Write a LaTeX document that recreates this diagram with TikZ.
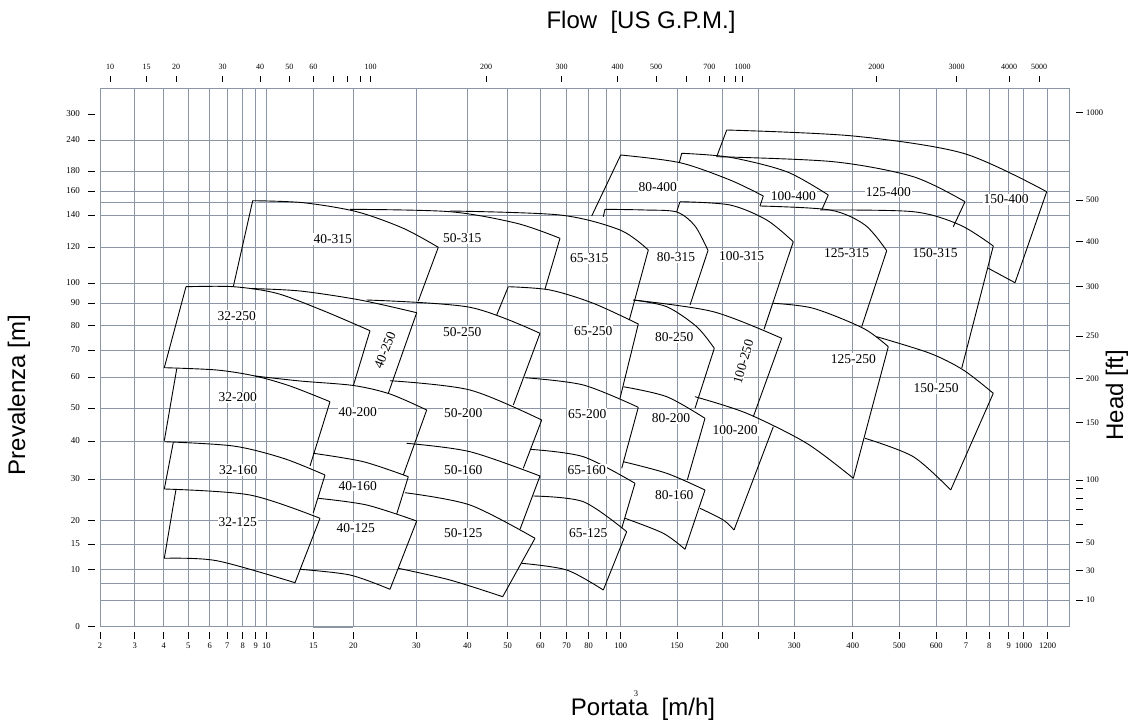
\documentclass[tikz,border=0pt]{standalone}
\usepackage{fontspec}
\setmainfont{Liberation Serif}
\newfontfamily\arialf{Liberation Sans}
\definecolor{gridc}{RGB}{138,150,164}
\begin{document}
\begin{tikzpicture}[x=1pt,y=-1pt,
  gridl/.style={draw=gridc, line width=0.85pt},
  crv/.style={line width=0.9pt, line join=round},
  tickm/.style={line width=0.8pt},
  lbl/.style={fill=white, inner sep=1pt, font=\fontsize{13.5}{14}\selectfont},
  tlbl/.style={inner sep=0pt, font=\fontsize{8.5}{9}\selectfont},
  title/.style={inner sep=0pt, font=\arialf\fontsize{24}{24}\selectfont}]
\useasboundingbox (0,0) rectangle (1133,722);
% grid
\foreach \x in {134.7,163.7,188.3,209.7,227.3,242.7,255.7,266.3,313.3,353.3,416.3,467.3,507.7,540.3,566.7,588.7,606.3,620.7,677,722.3,758.3,794.3,852.7,899.3,936.3,966,989.3,1008.7,1023.7,1047.7}
  \draw[gridl] (\x,88) -- (\x,626.7);
\foreach \y in {140,171,191,202,215,247,283,303,325.3,350,377,408,441,479,520.7,544,569.3,583.3,600}
  \draw[gridl] (100,\y) -- (1069,\y);
\draw[gridl] (100,88) rectangle (1069,626.7);
\draw[gridl, line width=1.6pt] (313.3,626.7) -- (353.3,626.7);
% left axis
\foreach \y/\t in {114/300,140/240,171/180,191/160,215/140,247/120,283/100,303/90,325.3/80,350/70,377/60,408/50,441/40,479/30,520.7/20,544/15,569.3/10,626.7/0}{
  \draw[tickm] (88,\y) -- (95,\y);
  \node[tlbl, anchor=east, font=\fontsize{9}{9}\selectfont] (l\t) at (80,\y) {\t};
}
% right axis
\foreach \y/\t in {112.7/1000,200/500,241.7/400,286.7/300,336/250,378.5/200,422.3/150,480/100,542.3/50,570.7/30,600/10}{
  \draw[tickm] (1076,\y) -- (1083,\y);
  \node[tlbl, anchor=west, font=\fontsize{8.5}{9}\selectfont] (r\t) at (1086,\y) {\t};
}
\foreach \y in {488.7,498,509.3,524} \draw[tickm] (1076,\y) -- (1083,\y);
% bottom axis
\foreach \x/\t in {100/2,134.7/3,163.7/4,188.3/5,209.7/6,227.3/7,242.7/8,255.7/9,266.3/10,313.3/15,353.3/20,416.3/30,467.3/40,507.7/50,540.3/60,566.7/70,588.7/80,620.7/100,677/150,722.3/200,794.3/300,852.7/400,899.3/500,936.3/600,966/7,989.3/8,1008.7/9,1023.7/1000,1047.7/1200}{
  \draw[tickm] (\x,632) -- (\x,639);
  \node[tlbl] (b\x) at (\x,646) {\t};
}
\foreach \x in {606.3,758.3} \draw[tickm] (\x,632) -- (\x,639);
% top axis
\foreach \x/\t in {110/10,146.7/15,176/20,222.7/30,260/40,289.3/50,313.3/60,370.7/100,486/200,561.7/300,617.7/400,656/500,709.3/700,742.7/1000,876.3/2000,956.7/3000,1009/4000,1039/5000}{
  \draw[tickm] (\x,76) -- (\x,82);
  \node[tlbl, font=\fontsize{8}{8}\selectfont] (t\x) at (\x,67) {\t};
}
\foreach \x in {333.3,347.7,360.7,686,724,735} \draw[tickm] (\x,76) -- (\x,82);
% titles
\node[title] (ttop) at (641,22) {Flow\ \ [US G.P.M.]};
\node[title] (tbot) at (643,709) {Portata\ \ [m/h]};
\node[inner sep=0pt, font=\fontsize{8.5}{9}\selectfont] (tsup) at (636,694) {3};
\node[title, rotate=90] (tleft) at (19,395) {Prevalenza [m]};
\node[title, rotate=90] (tright) at (1117,395) {Head [ft]};
% ---------- curves ----------
\begin{scope}[crv]
% 32 family
\draw plot[smooth] coordinates {(186,286.7) (233.3,286.7) (276.7,293.3) (323.3,310.7) (370,330.7)};
\draw (186,286.7) -- (164.3,367.7);
\draw (370,330.7) -- (353.3,385.7);
\draw plot[smooth] coordinates {(164.3,367.7) (216.7,370) (255,376) (290,386) (330,401.7)};
\draw (176.7,369) -- (164.3,440.7);
\draw (330,401.7) -- (310,466);
\draw plot[smooth] coordinates {(255,376) (300,381) (353.3,385.5) (390,394) (426.7,410)};
\draw (426.7,410) -- (403.3,475);
\draw plot[smooth] coordinates {(164.3,441.7) (233.3,446) (283.3,458.3) (325,475)};
\draw (173.3,442.3) -- (164.3,489);
\draw (325,475) -- (313.3,512.7);
\draw plot[smooth] coordinates {(313.3,453.3) (363.3,461.7) (408.3,476.7)};
\draw (408.3,476.7) -- (396.7,514);
\draw plot[smooth] coordinates {(164.3,489) (250,495) (320,518.3)};
\draw plot[smooth] coordinates {(318.3,498.3) (366.7,505) (416.7,521)};
\draw (176,489.3) -- (164.3,558.3);
\draw (320,518.3) -- (295,582.7);
\draw plot[smooth] coordinates {(164.3,558.3) (216.7,560.7) (295,582.7)};
\draw (416.7,521) -- (390,589.3);
\draw plot[smooth] coordinates {(300,569.3) (350,575) (390,589.3)};
% 40-315, 40-250
\draw (233.3,286.7) -- (252.7,200.7);
\draw plot[smooth] coordinates {(252.7,200.7) (303.3,202.7) (356.7,211.7) (403.3,228.3) (438.3,247.3)};
\draw (438.3,247.3) -- (418.3,301);
\draw plot[smooth] coordinates {(250,288.5) (300,291) (360,300) (416.7,312.7)};
\draw (416.7,312.7) -- (388.3,393.3);
% 50 family
\draw plot[smooth] coordinates {(350,209.3) (450,211.7) (516.7,223.3) (560,238.3)};
\draw (560,238.3) -- (545,289);
\draw plot[smooth] coordinates {(450,211) (560,215) (620,230) (648.3,250)};
\draw (648.3,250) -- (629.3,320);
\draw plot[smooth] coordinates {(366.7,300) (470,307.3) (540,333.3)};
\draw (540,333.3) -- (513.3,405);
\draw plot[smooth] coordinates {(390,380.7) (470,390) (541.7,420)};
\draw (541.7,420) -- (523.3,468.3);
\draw plot[smooth] coordinates {(406.7,443.3) (470,451.7) (540,476)};
\draw (540,476) -- (520,529.3);
\draw plot[smooth] coordinates {(405,492.7) (470,505) (535,538.3)};
\draw (535,538.3) -- (502.7,596.7);
\draw plot[smooth] coordinates {(398.3,568.3) (450,580) (502.7,596.7)};
% 65 family
\draw (508.3,286.7) -- (496.7,315);
\draw plot[smooth] coordinates {(508.3,286.7) (550,290) (593.3,303.3) (638.3,324)};
\draw (638.3,324) -- (620,398.3);
\draw plot[smooth] coordinates {(525,377.7) (583.3,385) (638.3,407.3)};
\draw (638.3,407.3) -- (621.7,468.3);
\draw plot[smooth] coordinates {(530,449.3) (583.3,456.7) (635,483.3)};
\draw (635,483.3) -- (621.7,528.3);
\draw plot[smooth] coordinates {(533.3,496) (583.3,501.7) (626.7,531.7)};
\draw (626.7,531.7) -- (603.3,590);
\draw plot[smooth] coordinates {(521.7,563.3) (566.7,570) (603.3,590)};
% 400 family
\draw (620.7,155) -- (591.7,216);
\draw plot[smooth] coordinates {(620.7,155) (680,162.7) (730,180) (763.3,196)};
\draw (763.3,196) -- (760,206);
\draw (681.7,153.3) -- (679.3,162.7);
\draw plot[smooth] coordinates {(681.7,153.3) (730,157.3) (786.7,171.7) (828.3,195)};
\draw (828.3,195) -- (821.7,210);
\draw plot[smooth] coordinates {(726.7,130) (853.3,136) (963.3,153.3) (1046.7,191.7)};
\draw (726.7,130) -- (716.7,156.7);
\draw plot[smooth] coordinates {(716.7,156.7) (833.3,161.7) (913.3,176.7) (965,201.7)};
\draw (965,201.7) -- (953.3,226.7);
\draw (1046.7,191.7) -- (1015,282.7);
\draw (988.3,268.3) -- (1015,282.7);
% 315 family
\draw plot[smooth] coordinates {(605,209.3) (645,210) (676.7,212) (695,226) (708,250.5)};
\draw (605,209.3) -- (603.3,216.7);
\draw (708,250.5) -- (690,305);
\draw (680,201.7) -- (676.7,211.7);
\draw plot[smooth] coordinates {(680,201.7) (730,205) (766.7,220) (793.3,241.7)};
\draw (793.3,241.7) -- (764,329.3);
\draw plot[smooth] coordinates {(760,206) (830,210) (865,225) (886.7,250.7)};
\draw (886.7,250.7) -- (861.7,326.7);
\draw plot[smooth] coordinates {(820,210) (913.3,211.7) (960,225) (993.3,246)};
\draw (993.3,246) -- (961.7,368.3);
% 250 family
\draw plot[smooth] coordinates {(633.3,300) (666.7,306.7) (696.7,326.7) (714.3,348.3)};
\draw plot[smooth] coordinates {(633.3,300) (713.3,311.7) (781.7,338.3)};
\draw (714.3,348.3) -- (695,408.3);
\draw (781.7,338.3) -- (753.3,416.7);
\draw plot[smooth] coordinates {(773.3,303.3) (813.3,308.3) (863.3,328.3) (888.3,346.7)};
\draw (888.3,346.7) -- (853.3,478.3);
\draw plot[smooth] coordinates {(876.7,336.7) (930,353.3) (963.3,370) (993.3,393.3)};
\draw (993.3,393.3) -- (950.7,490);
\draw plot[smooth] coordinates {(865,438.3) (913.3,456.7) (950.7,490)};
% 200 / 160 family
\draw plot[smooth] coordinates {(623.3,386.7) (666.7,396.7) (705,418.3)};
\draw (705,418.3) -- (687.3,480);
\draw plot[smooth] coordinates {(695,396.7) (746.7,413.3) (806.7,443.3) (853.3,478.3)};
\draw (773.3,426.7) -- (734,530);
\draw plot[smooth] coordinates {(700,508.3) (723.3,520) (734,530)};
\draw plot[smooth] coordinates {(623.3,461.7) (666.7,473.3) (705,490)};
\draw (705,490) -- (685,549.3);
\draw plot[smooth] coordinates {(625,518.3) (663.3,533.3) (685,549.3)};
\end{scope}
% ---------- labels ----------
\node[lbl] (n40315) at (332.7,239) {40-315};
\node[lbl] (n50315) at (462.3,238.3) {50-315};
\node[lbl] (n65315) at (589.3,258.3) {65-315};
\node[lbl] (n32250) at (236.7,315.7) {32-250};
\node[lbl] (n50250) at (462.3,331.7) {50-250};
\node[lbl] (n65250) at (593.3,331) {65-250};
\node[lbl, rotate=68, inner sep=0.5pt] (n40250) at (385,350) {40-250};
\node[lbl] (n32200) at (237.7,397.3) {32-200};
\node[lbl] (n40200) at (357.7,412.3) {40-200};
\node[lbl] (n50200) at (463.3,413.3) {50-200};
\node[lbl] (n65200) at (587.3,414) {65-200};
\node[lbl] (n32160) at (238.3,470) {32-160};
\node[lbl] (n40160) at (357.7,485.7) {40-160};
\node[lbl] (n50160) at (463.3,470) {50-160};
\node[lbl] (n65160) at (586.7,470) {65-160};
\node[lbl] (n32125) at (237.7,522.3) {32-125};
\node[lbl] (n40125) at (355.7,527.7) {40-125};
\node[lbl] (n50125) at (463.3,533.3) {50-125};
\node[lbl] (n65125) at (588.3,533.3) {65-125};
\node[lbl] (n80400) at (657.7,186.7) {80-400};
\node[lbl] (n100400) at (793.3,196) {100-400};
\node[lbl] (n125400) at (888.3,191.7) {125-400};
\node[lbl] (n150400) at (1006,199.3) {150-400};
\node[lbl] (n80315) at (676,257.3) {80-315};
\node[lbl] (n100315) at (741.7,256) {100-315};
\node[lbl] (n125315) at (846.7,253.3) {125-315};
\node[lbl] (n150315) at (935,253.3) {150-315};
\node[lbl] (n80250) at (674.3,337.3) {80-250};
\node[lbl, rotate=74, inner sep=0.5pt] (n100250) at (743.3,361.7) {100-250};
\node[lbl] (n125250) at (853.3,359) {125-250};
\node[lbl] (n150250) at (936,388.3) {150-250};
\node[lbl] (n80200) at (671,418.3) {80-200};
\node[lbl] (n100200) at (735,430) {100-200};
\node[lbl] (n80160) at (674.3,495) {80-160};
\end{tikzpicture}
\end{document}
